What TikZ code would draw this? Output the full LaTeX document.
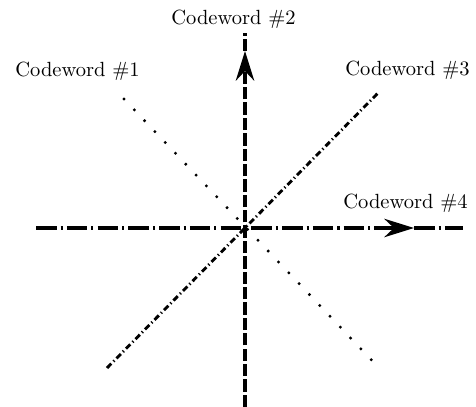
\documentclass[tikz,border=0pt]{standalone}
\usetikzlibrary{arrows.meta}
\begin{document}
\begin{tikzpicture}[x=0.4876pt,y=-0.4876pt,
  lbl/.style={inner sep=0pt,font=\normalsize},
  dotline/.style={line width=1.6pt,line cap=round,dash pattern=on 0pt off 7.3pt},
  dashdotthin/.style={line width=1.4pt,dash pattern=on 3pt off 1.5pt on 0.6pt off 1.5pt},
  dashline/.style={line width=1.5pt,dash pattern=on 6pt off 1.5pt},
  dashdotthick/.style={line width=1.5pt,dash pattern=on 10pt off 2pt on 1pt off 2pt},
  tip/.style={-{Stealth[length=14.5pt,width=9pt]}}]
\useasboundingbox (0,0) rectangle (476,407);
\coordinate (O) at (245,228);
\coordinate (vtop) at (245,33);
\coordinate (vbot) at (245,407);
\coordinate (vtip) at (245,51);
\coordinate (hl) at (36,228);
\coordinate (hr) at (463,228);
\coordinate (htip) at (414,228);
\coordinate (d1a) at (124,99);
\coordinate (d1b) at (380,369);
\coordinate (d3a) at (107,368);
\coordinate (d3b) at (378,93);
\node[lbl] (c2) at (233.5,19) {Codeword \#2};
\node[lbl] (c1) at (77.5,71) {Codeword \#1};
\node[lbl] (c3) at (407.5,70) {Codeword \#3};
\node[lbl] (c4) at (405.5,203) {Codeword \#4};
\draw[dotline] (d1a) -- (d1b);
\draw[dashdotthin] (d3a) -- (d3b);
\draw[dashline,tip] (vbot) -- (vtip);
\draw[dashline] (vtip) -- (vtop);
\draw[dashdotthick,tip] (hl) -- (htip);
\draw[dashdotthick] (htip) -- (hr);
\end{tikzpicture}
\end{document}
